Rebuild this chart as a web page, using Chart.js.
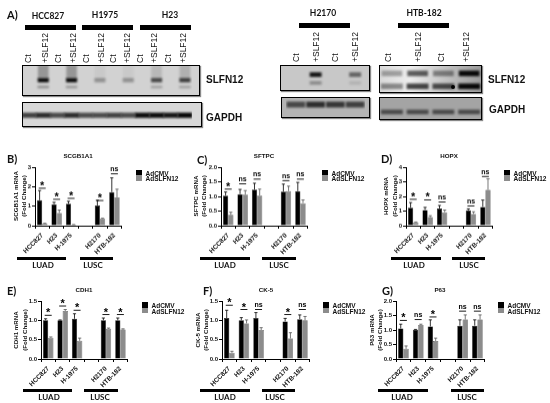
<!DOCTYPE html>
<html>
<head>
<meta charset="utf-8">
<script src="https://cdn.jsdelivr.net/npm/chart.js@4"></script>
<style>
    html, body { margin: 0; padding: 0; background: #fff; }
    #page { position: relative; width: 550px; height: 403px; overflow: hidden; filter: blur(0.4px); }
    #page canvas { position: absolute; }
    .txt { position: absolute; white-space: nowrap; color: #111; font-family: "Liberation Sans", sans-serif; }
    .box { position: absolute; }
</style>
</head>
<body>
<div id="page"></div>
<script>
// cell lines on the x axis, the blank one is the gap between LUAD and LUSC
const cellLines = ["HCC827", "H23", "H-1975", "", "H2170", "HTB-182"];

const scgbCtrl = [1.3, 1.1, 1.12, null, 1.03, 1.72];
const scgbSlfn = [0.1, 0.65, 0.05, null, 0.35, 1.45];
const scgbCtrlTop = [1.8, 1.2, 1.25, null, 1.3, 2.45];
const scgbSlfnTop = [0.12, 0.8, 0.06, null, 0.38, 1.87];
const scgbSig = ["*", "*", "*", null, "*", "ns"];
const scgbSigY = [1.92, 1.35, 1.4, null, 1.29, 2.66];

const sftpcCtrl = [1.03, 1.08, 1.23, null, 1.16, 1.18];
const sftpcSlfn = [0.37, 1.06, 1.03, null, 1.18, 0.77];
const sftpcCtrlTop = [1.15, 1.24, 1.45, null, 1.42, 1.48];
const sftpcSlfnTop = [0.46, 1.2, 1.25, null, 1.35, 0.88];
const sftpcSig = ["*", "ns", "ns", null, "ns", "ns"];
const sftpcSigY = [1.25, 1.43, 1.59, null, 1.54, 1.59];

const hopxCtrl = [1.22, 1.07, 1.17, null, 1.05, 1.28];
const hopxSlfn = [0.22, 0.58, 0.92, null, 0.8, 2.45];
const hopxCtrlTop = [1.58, 1.25, 1.38, null, 1.15, 1.75];
const hopxSlfnTop = [0.25, 0.68, 1.07, null, 0.95, 3.2];
const hopxSig = ["*", "*", "ns", null, "ns", "ns"];
const hopxSigY = [1.8, 1.76, 1.62, null, 1.35, 3.36];

const cdh1Ctrl = [1.0, 1.0, 1.04, null, 1.0, 1.0];
const cdh1Slfn = [0.55, 1.24, 0.47, null, 0.78, 0.76];
const cdh1CtrlTop = [1.04, 1.01, 1.17, null, 1.06, 1.06];
const cdh1SlfnTop = [0.57, 1.28, 0.54, null, 0.8, 0.78];
const cdh1Sig = ["*", "*", "*", null, "*", "*"];
const cdh1SigY = [1.13, 1.37, 1.26, null, 1.15, 1.15];

const ck5Ctrl = [1.06, 1.0, 1.06, null, 0.97, 1.03];
const ck5Slfn = [0.16, 0.92, 0.75, null, 0.53, 1.0];
const ck5CtrlTop = [1.26, 1.07, 1.2, null, 1.05, 1.14];
const ck5SlfnTop = [0.2, 1.01, 0.81, null, 0.68, 1.1];
const ck5Sig = ["*", "*", "ns", null, "*", "ns"];
const ck5SigY = [1.39, 1.28, 1.28, null, 1.15, 1.28];

const p63Ctrl = [1.05, 1.01, 1.12, null, 1.15, 1.15];
const p63Slfn = [0.35, 1.17, 0.62, null, 1.36, 1.36];
const p63CtrlTop = [1.2, 1.02, 1.35, null, 1.35, 1.35];
const p63SlfnTop = [0.45, 1.2, 0.72, null, 1.52, 1.52];
const p63Sig = ["*", "ns", "*", null, "ns", "ns"];
const p63SigY = [1.33, 1.36, 1.45, null, 1.65, 1.65];

// blot lanes and band darkness (0-1), read by eye
const lanes12 = ["Ct", "+SLF12", "Ct", "+SLF12", "Ct", "+SLF12", "Ct", "+SLF12", "Ct", "+SLF12", "Ct", "+SLF12"];
const lanes4 = ["Ct", "+SLF12", "Ct", "+SLF12"];
const leftMain = [0, 0.95, 0, 0.95, 0, 0.3, 0, 0.3, 0, 0.65, 0, 0.7];
const leftMinor = [0, 0.4, 0, 0.35, 0, 0, 0, 0, 0, 0.3, 0, 0.3];
const leftSmear = [0, 0.35, 0, 0.35, 0, 0.05, 0, 0.05, 0, 0.15, 0, 0.2];
const leftGapdh = [0.7, 0.8, 0.65, 0.8, 0.65, 0.65, 0.7, 0.65, 0.95, 0.95, 0.9, 0.98];
const h2170Main = [0, 0.9, 0, 0.5];
const h2170Minor = [0, 0.35, 0, 0.12];
const h2170Gapdh = [0.6, 0.75, 0.7, 0.65];
const htbTop = [0.3, 0.6, 0.4, 0.95];
const htbLow = [0.4, 0.7, 0.65, 0.95];
const htbGapdh = [0.55, 0.55, 0.55, 0.55];

const fontName = "Liberation Sans";
const page = document.getElementById("page");

function addText(str, x, y, opts = {}) {
    const el = document.createElement("div");
    el.className = "txt";
    el.textContent = str;
    el.style.left = x + "px";
    el.style.top = y + "px";
    el.style.fontSize = (opts.size || 7) + "px";
    el.style.fontWeight = opts.weight || "bold";
    if (opts.font) el.style.fontFamily = opts.font;
    el.style.transform = opts.transform || "translate(-50%,-50%)";
    if (opts.origin) el.style.transformOrigin = opts.origin;
    page.appendChild(el);
}

function addBox(x1, y1, x2, y2, color) {
    const el = document.createElement("div");
    el.className = "box";
    el.style.left = x1 + "px";
    el.style.top = y1 + "px";
    el.style.width = (x2 - x1) + "px";
    el.style.height = (y2 - y1) + "px";
    el.style.background = color;
    page.appendChild(el);
    return el;
}

function addCanvas(x, y, w, h) {
    const canvas = document.createElement("canvas");
    canvas.width = w;
    canvas.height = h;
    canvas.style.left = x + "px";
    canvas.style.top = y + "px";
    canvas.style.width = w + "px";
    canvas.style.height = h + "px";
    page.appendChild(canvas);
    return canvas;
}

// error bars and the significance marks, both go through the chart scales
const markPlugin = {
    id: "marks",
    afterDatasetsDraw(chart, args, opts) {
        const ctx = chart.ctx;
        const yScale = chart.scales.y;
        ctx.save();
        chart.data.datasets.forEach((ds, d) => {
            const meta = chart.getDatasetMeta(d);
            ctx.strokeStyle = d === 0 ? "#000" : "#555";
            ctx.lineWidth = 0.8;
            meta.data.forEach((bar, i) => {
                if (ds.data[i] === null) return;
                const top = yScale.getPixelForValue(ds.tops[i]);
                ctx.beginPath();
                ctx.moveTo(bar.x, bar.y);
                ctx.lineTo(bar.x, top);
                ctx.moveTo(bar.x - 1.6, top);
                ctx.lineTo(bar.x + 1.6, top);
                ctx.stroke();
            });
        });
        ctx.fillStyle = "#000";
        ctx.strokeStyle = "#000";
        ctx.textAlign = "center";
        ctx.textBaseline = "alphabetic";
        opts.sig.forEach((mark, i) => {
            if (!mark) return;
            const x = chart.scales.x.getPixelForValue(i);
            const y = yScale.getPixelForValue(opts.sigY[i]);
            ctx.lineWidth = 0.9;
            ctx.beginPath();
            ctx.moveTo(x - 3.5, y);
            ctx.lineTo(x + 3.5, y);
            ctx.stroke();
            if (mark === "*") {
                ctx.font = "bold 11px '" + fontName + "'";
                ctx.fillText(mark, x, y + 1);
            } else {
                ctx.font = "bold 7px '" + fontName + "'";
                ctx.fillText(mark, x, y - 2.5);
            }
        });
        ctx.restore();
    }
};

function barPanel(p) {
    const padTop = 16, yWidth = 38, xHeight = 40;
    const left = p.axisX - yWidth;
    const w = p.right - left + 1;
    const h = p.bottom - p.top + padTop + xHeight;
    const canvas = addCanvas(left, p.top - padTop, w, h);
    new Chart(canvas, {
        type: "bar",
        data: {
            labels: cellLines,
            datasets: [
                { label: "AdCMV", data: p.ctrl, tops: p.ctrlTop, backgroundColor: "#000", borderColor: "#000", borderWidth: 0.5 },
                { label: "AdSLFN12", data: p.slfn, tops: p.slfnTop, backgroundColor: "#8c8c8c", borderColor: "#333", borderWidth: 0.5 }
            ]
        },
        plugins: [markPlugin],
        options: {
            responsive: false,
            animation: false,
            layout: { padding: { top: padTop, right: 1, left: 0, bottom: 0 } },
            datasets: { bar: { categoryPercentage: 0.72, barPercentage: 1 } },
            plugins: {
                legend: { display: false },
                tooltip: { enabled: false },
                marks: { sig: p.sig, sigY: p.sigY }
            },
            scales: {
                x: {
                    afterFit: (s) => { s.height = xHeight; },
                    border: { color: "#000", width: 1 },
                    grid: { drawOnChartArea: false, color: "#000", tickLength: 3 },
                    ticks: { color: "#111", font: { family: fontName, size: 6.5, weight: "bold" }, minRotation: 45, maxRotation: 45, padding: 3, autoSkip: false }
                },
                y: {
                    min: 0,
                    max: p.max,
                    afterFit: (s) => { s.width = yWidth; },
                    border: { color: "#000", width: 1 },
                    grid: { drawOnChartArea: false, color: "#000", tickLength: 3 },
                    title: { display: false },
                    ticks: {
                        color: "#111",
                        font: { family: fontName, size: 6, weight: "bold" },
                        stepSize: p.step,
                        padding: 1,
                        callback: (v) => p.step < 1 ? v.toFixed(1) : String(v)
                    }
                }
            }
        }
    });

    // y axis title, two rotated lines
    const yMid = (p.top + p.bottom) / 2;
    addText(p.yLabel, p.axisX - p.yTitle[0], yMid, { size: 6.2, transform: "translate(-50%,-50%) rotate(-90deg)" });
    addText("(Fold Change)", p.axisX - p.yTitle[1], yMid, { size: 6.2, transform: "translate(-50%,-50%) rotate(-90deg)" });
    addText(p.title, p.titleX, p.titleY, { size: 6.2 });
    addText(p.letter, p.letterX, p.letterY, { size: 11, font: "Lato", transform: "translate(0,-50%)" });

    // legend
    addBox(p.swatchX, p.legendY - 3, p.swatchX + 6, p.legendY + 2.5, "#000");
    addBox(p.swatchX, p.legendY + 2.5, p.swatchX + 6, p.legendY + 8, "#8c8c8c");
    addText("AdCMV", p.swatchX + 9.5, p.legendY, { size: 6.5, transform: "translate(0,-50%)" });
    addText("AdSLFN12", p.swatchX + 9.5, p.legendY + 5.5, { size: 6.5, transform: "translate(0,-50%)" });

    // LUAD / LUSC brackets under the axis
    addBox(p.luad[0], p.barY, p.luad[1], p.barY + 3, "#000");
    addBox(p.lusc[0], p.barY, p.lusc[1], p.barY + 3, "#000");
    addText("LUAD", p.luadText, p.barY + 8, { size: 8, font: "Lato" });
    addText("LUSC", p.luscText, p.barY + 8, { size: 8, font: "Lato" });
}

barPanel({ ctrl: scgbCtrl, slfn: scgbSlfn, ctrlTop: scgbCtrlTop, slfnTop: scgbSlfnTop, sig: scgbSig, sigY: scgbSigY, max: 3, step: 1,
    axisX: 35, right: 122, top: 167, bottom: 225.5, title: "SCGB1A1", titleX: 78, titleY: 155, yLabel: "SCGB1A1 mRNA", yTitle: [20, 12], letter: "B)", letterX: 7, letterY: 158,
    swatchX: 136, legendY: 172.5, luad: [17, 66], lusc: [80, 113], barY: 257, luadText: 43, luscText: 93 });
barPanel({ ctrl: sftpcCtrl, slfn: sftpcSlfn, ctrlTop: sftpcCtrlTop, slfnTop: sftpcSlfnTop, sig: sftpcSig, sigY: sftpcSigY, max: 2, step: 0.5,
    axisX: 221, right: 308, top: 167, bottom: 225.5, title: "SFTPC", titleX: 264, titleY: 155, yLabel: "SFTPC mRNA", yTitle: [26, 18], letter: "C)", letterX: 197, letterY: 159,
    swatchX: 322, legendY: 172.5, luad: [200, 250], lusc: [262, 296], barY: 257, luadText: 225, luscText: 279 });
barPanel({ ctrl: hopxCtrl, slfn: hopxSlfn, ctrlTop: hopxCtrlTop, slfnTop: hopxSlfnTop, sig: hopxSig, sigY: hopxSigY, max: 4, step: 1,
    axisX: 406, right: 493, top: 167, bottom: 225.5, title: "HOPX", titleX: 449, titleY: 155, yLabel: "HOPX mRNA", yTitle: [21, 12], letter: "D)", letterX: 381, letterY: 158,
    swatchX: 504, legendY: 172.5, luad: [391, 441], lusc: [452, 485], barY: 257, luadText: 414, luscText: 469 });
barPanel({ ctrl: cdh1Ctrl, slfn: cdh1Slfn, ctrlTop: cdh1CtrlTop, slfnTop: cdh1SlfnTop, sig: cdh1Sig, sigY: cdh1SigY, max: 1.5, step: 0.5,
    axisX: 41, right: 128, top: 300.5, bottom: 358.5, title: "CDH1", titleX: 84, titleY: 289, yLabel: "CDH1 mRNA", yTitle: [26, 17], letter: "E)", letterX: 7, letterY: 290,
    swatchX: 142, legendY: 305, luad: [23, 72], lusc: [84, 118], barY: 389, luadText: 49, luscText: 100 });
barPanel({ ctrl: ck5Ctrl, slfn: ck5Slfn, ctrlTop: ck5CtrlTop, slfnTop: ck5SlfnTop, sig: ck5Sig, sigY: ck5SigY, max: 1.5, step: 0.5,
    axisX: 222, right: 310, top: 300.5, bottom: 358.5, title: "CK-5", titleX: 266, titleY: 289, yLabel: "CK-5 mRNA", yTitle: [25, 17], letter: "F)", letterX: 203, letterY: 290,
    swatchX: 323, legendY: 305, luad: [200, 250], lusc: [262, 295], barY: 389, luadText: 225, luscText: 275 });
barPanel({ ctrl: p63Ctrl, slfn: p63Slfn, ctrlTop: p63CtrlTop, slfnTop: p63SlfnTop, sig: p63Sig, sigY: p63SigY, max: 2, step: 0.5,
    axisX: 396, right: 485, top: 300.5, bottom: 358.5, title: "P63", titleX: 440, titleY: 289, yLabel: "P63 mRNA", yTitle: [25, 17], letter: "G)", letterX: 382, letterY: 290,
    swatchX: 498, legendY: 305, luad: [378, 428], lusc: [451, 484], barY: 389, luadText: 402, luscText: 467 });

// soft edges for the blot bands
const blurPlugin = {
    id: "blotBlur",
    beforeDatasetsDraw(chart) { chart.ctx.save(); chart.ctx.filter = "blur(0.9px)"; },
    afterDatasetsDraw(chart) { chart.ctx.restore(); }
};

function bandSet(levels, y0, y1, pct, base) {
    return {
        data: levels.map(() => [y0, y1]),
        backgroundColor: levels.map((a) => `rgba(${base},${base},${base},${a})`),
        categoryPercentage: 1,
        barPercentage: pct,
        grouped: false
    };
}

function blot(x1, y1, x2, y2, lanes, bands, pad, bg) {
    const canvas = addCanvas(x1, y1, x2 - x1, y2 - y1);
    canvas.style.background = bg;
    canvas.style.boxSizing = "border-box";
    canvas.style.outline = "1.5px solid #000";
    canvas.style.outlineOffset = "-1px";
    canvas.style.boxShadow = "1px 1px 1px #888";
    new Chart(canvas, {
        type: "bar",
        data: { labels: lanes, datasets: bands },
        plugins: [blurPlugin],
        options: {
            responsive: false,
            animation: false,
            layout: { padding: pad },
            plugins: { legend: { display: false }, tooltip: { enabled: false } },
            scales: { x: { display: false }, y: { display: false, min: 0, max: 1 } }
        }
    });
}

blot(22, 65, 200, 96, lanes12, [
    bandSet(leftSmear, 0.55, 1, 0.75, 40),
    bandSet(leftMain, 0.44, 0.58, 0.78, 0),
    bandSet(leftMinor, 0.25, 0.33, 0.8, 40)
], { right: 8 }, "#d2d2d2");
blot(22, 102, 202, 127, lanes12, [
    bandSet(leftGapdh, 0.38, 0.56, 1, 0)
], { right: 10 }, "#d8d8d8");
blot(280, 65, 370, 91, lanes4, [
    bandSet(h2170Main, 0.54, 0.72, 0.6, 0),
    bandSet(h2170Minor, 0.24, 0.38, 0.6, 30)
], { left: 6, right: 5 }, "#c8c8c8");
blot(281, 97, 370, 118, lanes4, [
    bandSet(h2170Gapdh, 0.5, 0.78, 0.95, 0)
], { left: 5, right: 5 }, "#b4b4b4");
blot(379, 65, 482, 93, lanes4, [
    bandSet(htbTop, 0.6, 0.8, 0.8, 0),
    bandSet(htbLow, 0.14, 0.34, 0.85, 0)
], { left: 0, right: 0 }, "linear-gradient(90deg,#d8d8d8,#ededed 30%,#c8c8c8 60%,#9a9a9a)");
blot(379, 97, 482, 120, lanes4, [
    bandSet(htbGapdh, 0.25, 0.45, 0.85, 0)
], { left: 0, right: 0 }, "#a4a4a4");

// spot on the HTB-182 blot
const spot = addBox(451, 85, 455, 89, "#000");
spot.style.borderRadius = "50%";

// headings and lane labels of the blots
addText("A)", 7, 14, { size: 11, font: "Lato", transform: "translate(0,-50%)" });
addText("HCC827", 48, 16, { size: 8.5, font: "Lato" });
addText("H1975", 105, 15, { size: 8.5, font: "Lato" });
addText("H23", 170, 15, { size: 8.5, font: "Lato" });
addText("H2170", 323, 13, { size: 8.5, font: "Lato" });
addText("HTB-182", 424, 13, { size: 8.5, font: "Lato" });
addBox(25, 25, 76, 29.5, "#000");
addBox(82, 25, 133, 29.5, "#000");
addBox(140, 25, 191, 29.5, "#000");
addBox(299, 23, 350, 27.5, "#000");
addBox(398, 23, 449, 27.5, "#000");

function laneLabels(lanes, xs, bottom) {
    lanes.forEach((name, i) => {
        addText(name, xs[i], bottom, { size: 8.5, weight: "normal", transform: "translate(0,-50%) rotate(-90deg)", origin: "0 50%" });
    });
}
laneLabels(lanes12, [28, 45, 58, 73, 86, 101, 113, 127, 140, 154, 168, 183], 63);
laneLabels(lanes4, [296, 316, 335, 355], 62);
laneLabels(lanes4, [388, 418, 441, 466], 62);

addText("SLFN12", 206, 79, { size: 10, transform: "translate(0,-50%)" });
addText("GAPDH", 206, 117, { size: 10, transform: "translate(0,-50%)" });
addText("SLFN12", 488, 79, { size: 10, transform: "translate(0,-50%)" });
addText("GAPDH", 489, 109, { size: 10, transform: "translate(0,-50%)" });
</script>
</body>
</html>
